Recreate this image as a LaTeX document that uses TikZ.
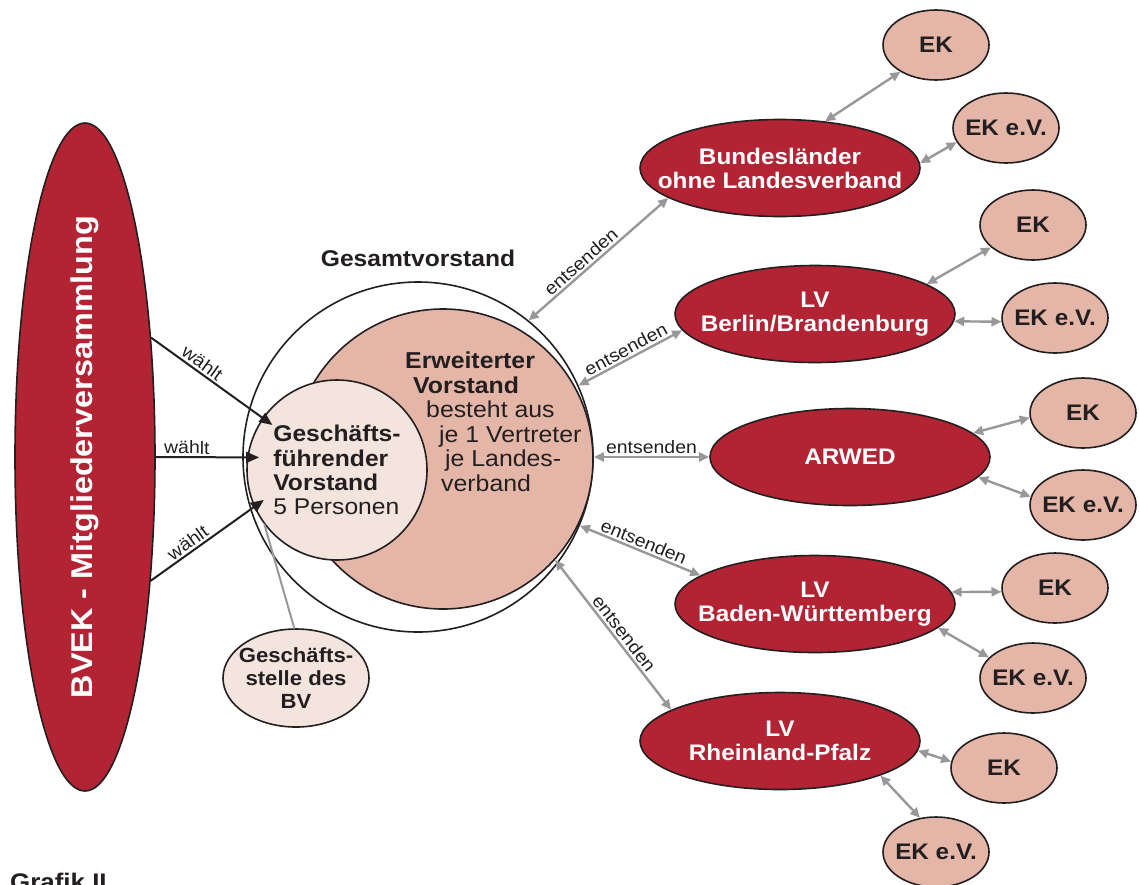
\documentclass[tikz,border=0pt]{standalone}
\usepackage{fontspec}
\setmainfont[FakeStretch=1.08]{Liberation Sans}
\usetikzlibrary{shapes.geometric, arrows.meta}
\definecolor{bvrot}{RGB}{178,36,52}
\definecolor{ekrosa}{RGB}{228,182,168}
\definecolor{hellrosa}{RGB}{244,228,222}
\definecolor{pfeilgrau}{RGB}{152,152,155}
\definecolor{strich}{RGB}{35,31,32}
\begin{document}
\begin{tikzpicture}[x=1pt, y=-1pt, line join=round, line cap=round, text=strich,
	lv/.style={ellipse, draw=strich, line width=1.6pt, fill=bvrot, text=white, align=center,
		font=\fontsize{22.5}{24}\selectfont\bfseries, minimum width=280pt, minimum height=97pt,
		inner xsep=-30pt, inner ysep=-4pt},
	ek/.style={ellipse, draw=strich, line width=1.6pt, fill=ekrosa,
		font=\fontsize{22.5}{24}\selectfont\bfseries, minimum width=106pt, minimum height=70pt,
		inner xsep=-10pt, inner ysep=0pt},
	pf/.style={pfeilgrau, line width=2.4pt, {Triangle[length=10pt,width=9pt]}-{Triangle[length=10pt,width=9pt]}},
	waehlt/.style={strich, line width=2pt, -{Triangle[length=13pt,width=11pt]}, shorten >=-12pt},
	lbl/.style={font=\fontsize{18}{18}\selectfont, text=strich, sloped, above, inner sep=2pt}]
	\useasboundingbox (0,0) rectangle (1139,884);
	
	% 1. Mitgliederversammlung
	\node[lv, minimum width=140pt, minimum height=668pt, inner xsep=0pt, inner ysep=-30pt,
		font=\fontsize{30}{30}\selectfont\bfseries] (bvek) at (85,457) {\rotatebox{90}{BVEK - Mitgliederversammlung}};
	
	% 2. Gesamtvorstand mit Kreisen
	\node[circle, draw=strich, line width=1.6pt, minimum size=350pt] (gv) at (418,457) {};
	\node[font=\fontsize{22.8}{24}\selectfont\bfseries] (gvtitel) at (418,258) {Gesamtvorstand};
	\node[circle, draw=strich, line width=1.6pt, fill=ekrosa, minimum size=300pt] (erw) at (443,459) {};
	\node[anchor=north west, inner sep=0pt, align=left, font=\fontsize{23}{24.5}\selectfont] (erwtext) at (405,352)
		{\textbf{Erweiterter}\\\hspace*{8pt}\textbf{Vorstand}\\\hspace*{21pt}besteht aus\\
		 \hspace*{34pt}je 1 Vertreter\\\hspace*{40pt}je Landes-\\\hspace*{36pt}verband};
	\node[circle, draw=strich, line width=1.6pt, fill=hellrosa, minimum size=180pt, inner sep=0pt, align=left,
		font=\fontsize{22.8}{24.3}\selectfont] (gf) at (337,470)
		{\textbf{Geschäfts-}\\\textbf{führender}\\\textbf{Vorstand}\\5 Personen};
	\node[ellipse, draw=strich, line width=1.6pt, fill=hellrosa, minimum width=146pt, minimum height=98pt,
		inner xsep=-15pt, inner ysep=0pt, align=center, font=\fontsize{20.5}{23}\selectfont\bfseries] (gs) at (296,678)
		{Geschäfts-\\stelle des\\BV};
	
	% 3. Landesverbaende
	\node[lv] (bund)   at (780,168) {Bundesländer\\ohne Landesverband};
	\node[lv] (berlin) at (815,314) {LV\\Berlin/Brandenburg};
	\node[lv] (arwed)  at (850,457) {ARWED};
	\node[lv] (bw)     at (815,604) {LV\\Baden-Württemberg};
	\node[lv] (rp)     at (780,741) {LV\\Rheinland-Pfalz};
	
	% 4. Einkaufsgemeinschaften
	\foreach \n/\x/\y/\t in {ek1/936/45/EK, ekv1/1006/128/EK e.V., ek2/1033/225/EK, ekv2/1055/318/EK e.V.,
		ek3/1083/413/EK, ekv3/1083/505/EK e.V., ek4/1055/588/EK, ekv4/1033/678/EK e.V.,
		ek5/1004/768/EK, ekv5/936/852/EK e.V.}
		\node[ek] (\n) at (\x,\y) {\t};
	
	% 5. Verbindungen
	\foreach \a/\b/\p in {bvek.61/gf.145/0.41, bvek.0/gf.172/0.34, bvek.-62/gf.204/0.41}
		\draw[waehlt] (\a) -- node[lbl, pos=\p] {wählt} (\b);
	\draw[pfeilgrau, line width=2pt] (gf.217) -- (gs.92);
	\foreach \a/\b/\p in {gv.51/bund.195/0.42, gv.24/berlin.187/0.5, gv.0/arwed.180/0.5,
		gv.-23/bw.166/0.5, erw.-42/rp.164/0.53}
		\draw[pf] (\a) -- node[lbl, pos=\p] {entsenden} (\b);
	\foreach \a/\b in {bund.46/ek1.217, bund.2/ekv1.196, berlin.15/ek2.208, berlin.-3/ekv2.184,
		arwed.11/ek3.185, arwed.-9/ekv3.171, bw.5/ek4.184, bw.-11/ekv4.155, rp.-4/ek5.173, rp.-19/ekv5.115}
		\draw[pf] (\a) -- (\b);
	
	% 6. Unterschrift
	\node[anchor=base west, inner sep=0pt, font=\fontsize{24}{24}\selectfont\bfseries] (grafik) at (10,890) {Grafik II};
\end{tikzpicture}
\end{document}
